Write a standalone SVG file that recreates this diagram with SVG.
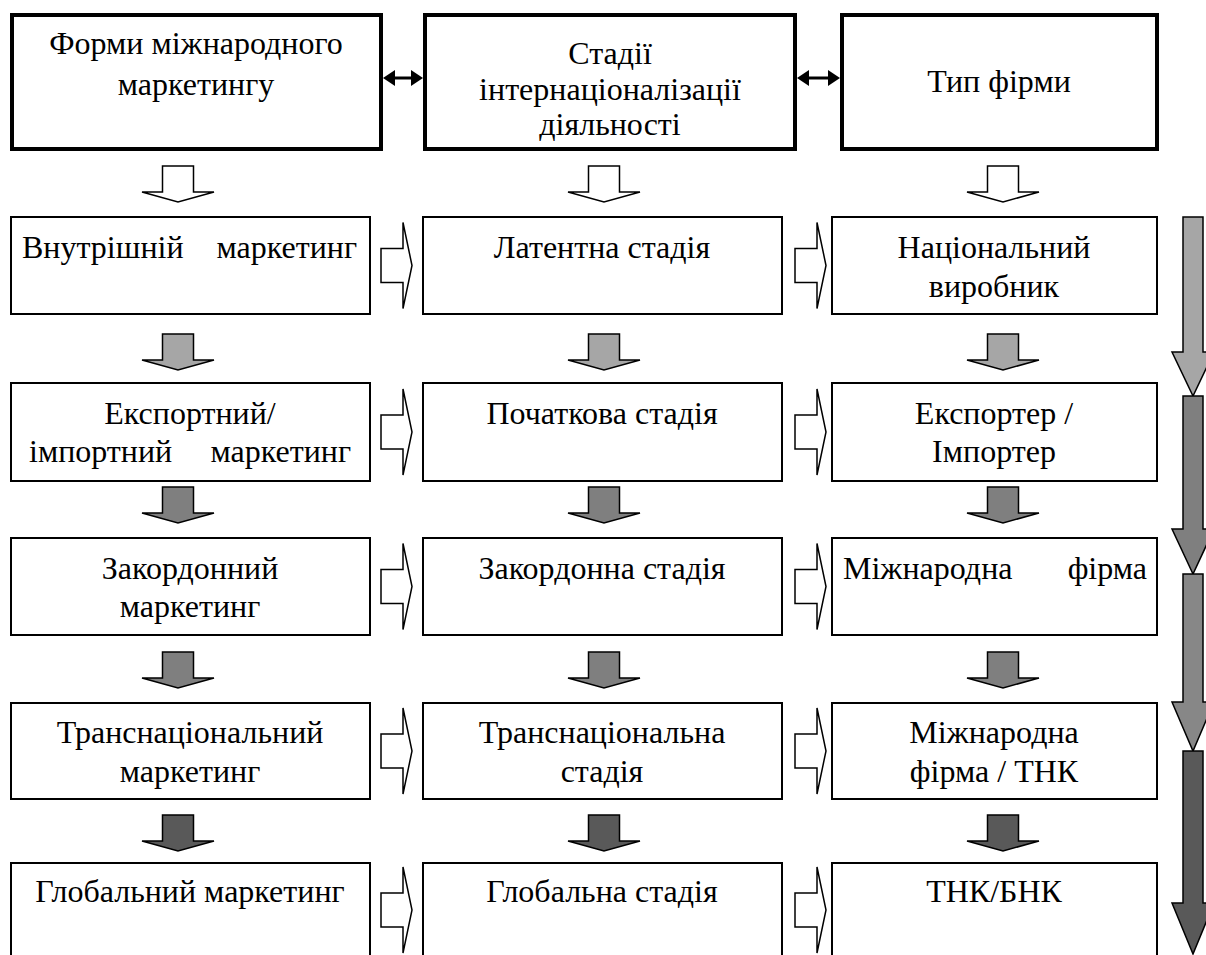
<svg xmlns="http://www.w3.org/2000/svg" width="1206" height="955" viewBox="0 0 1206 955">
  <style>
    .head { fill: #ffffff; stroke: #000000; stroke-width: 4; }
    .box { fill: #ffffff; stroke: #000000; stroke-width: 2; }
    .t { font-family: "Liberation Serif", "Times New Roman", serif; font-size: 32px; fill: #000000; text-anchor: middle; }
    .l { text-anchor: start; }
    .r { text-anchor: end; }
    .hollow { fill: #ffffff; stroke: #000000; stroke-width: 1.5; stroke-linejoin: miter; }
    .g1 { fill: #a6a6a6; stroke: #000000; stroke-width: 1.5; }
    .g2 { fill: #7f7f7f; stroke: #000000; stroke-width: 1.5; }
    .g3 { fill: #878787; stroke: #000000; stroke-width: 1.5; }
    .g4 { fill: #595959; stroke: #000000; stroke-width: 1.5; }
    .dbl { fill: #000000; stroke: none; }
    .dblline { stroke: #000000; stroke-width: 3; }
  </style>
  <defs>
    <!-- down block arrow, origin at top-centre of the shaft -->
    <polygon id="down" points="-15.5,0 15.5,0 15.5,26 36,26 0,36 -36,26 -15.5,26"/>
    <!-- right block arrow, origin at left-centre of the shaft -->
    <polygon id="right" points="0,-17 22,-17 22,-43 31,0 22,43 22,17 0,17"/>
  </defs>
  <rect width="1206" height="955" fill="#ffffff"/>

  <!-- header nodes -->
  <g id="header-forms">
    <rect class="head" x="12" y="15" width="369" height="134"/>
    <text class="t" x="196" y="54">Форми міжнародного</text>
    <text class="t" x="196" y="95">маркетингу</text>
  </g>
  <g id="header-stages">
    <rect class="head" x="425" y="15" width="370" height="134"/>
    <text class="t" x="610" y="64">Стадії</text>
    <text class="t" x="610" y="100">інтернаціоналізації</text>
    <text class="t" x="610" y="135">діяльності</text>
  </g>
  <g id="header-type">
    <rect class="head" x="842" y="15" width="315" height="134"/>
    <text class="t" x="999" y="92">Тип фірми</text>
  </g>

  <!-- row 1 -->
  <g id="r1c1"><rect class="box" x="11" y="217" width="359" height="97"/>
    <text class="t" y="258"><tspan class="l" x="22">Внутрішній</tspan><tspan class="r" x="357">маркетинг</tspan></text></g>
  <g id="r1c2"><rect class="box" x="423" y="217" width="359" height="97"/>
    <text class="t" x="602" y="258">Латентна стадія</text></g>
  <g id="r1c3"><rect class="box" x="832" y="217" width="325" height="97"/>
    <text class="t" x="994" y="258">Національний</text>
    <text class="t" x="994" y="297">виробник</text></g>

  <!-- row 2 -->
  <g id="r2c1"><rect class="box" x="11" y="383" width="359" height="98"/>
    <text class="t" x="190" y="424">Експортний/</text>
    <text class="t" y="462"><tspan class="l" x="29">імпортний</tspan><tspan class="r" x="351">маркетинг</tspan></text></g>
  <g id="r2c2"><rect class="box" x="423" y="383" width="359" height="98"/>
    <text class="t" x="602" y="424">Початкова стадія</text></g>
  <g id="r2c3"><rect class="box" x="832" y="383" width="325" height="98"/>
    <text class="t" x="994" y="424">Експортер /</text>
    <text class="t" x="994" y="462">Імпортер</text></g>

  <!-- row 3 -->
  <g id="r3c1"><rect class="box" x="11" y="538" width="359" height="97"/>
    <text class="t" x="190" y="579">Закордонний</text>
    <text class="t" x="190" y="617">маркетинг</text></g>
  <g id="r3c2"><rect class="box" x="423" y="538" width="359" height="97"/>
    <text class="t" x="602" y="579">Закордонна стадія</text></g>
  <g id="r3c3"><rect class="box" x="832" y="538" width="325" height="97"/>
    <text class="t" y="579"><tspan class="l" x="843">Міжнародна</tspan><tspan class="r" x="1147">фірма</tspan></text></g>

  <!-- row 4 -->
  <g id="r4c1"><rect class="box" x="11" y="703" width="359" height="96"/>
    <text class="t" x="190" y="743">Транснаціональний</text>
    <text class="t" x="190" y="782">маркетинг</text></g>
  <g id="r4c2"><rect class="box" x="423" y="703" width="359" height="96"/>
    <text class="t" x="602" y="743">Транснаціональна</text>
    <text class="t" x="602" y="782">стадія</text></g>
  <g id="r4c3"><rect class="box" x="832" y="703" width="325" height="96"/>
    <text class="t" x="994" y="743">Міжнародна</text>
    <text class="t" x="994" y="782">фірма / ТНК</text></g>

  <!-- row 5 -->
  <g id="r5c1"><rect class="box" x="11" y="863" width="359" height="100"/>
    <text class="t" x="190" y="902">Глобальний маркетинг</text></g>
  <g id="r5c2"><rect class="box" x="423" y="863" width="359" height="100"/>
    <text class="t" x="602" y="902">Глобальна стадія</text></g>
  <g id="r5c3"><rect class="box" x="832" y="863" width="325" height="100"/>
    <text class="t" x="994" y="902">ТНК/БНК</text></g>

  <g id="connectors">
    <!-- double-headed links between header nodes -->
    <line class="dblline" x1="393" y1="78" x2="412" y2="78"/>
    <polygon class="dbl" points="383,78 395,70 395,86"/>
    <polygon class="dbl" points="423,78 411,70 411,86"/>
    <line class="dblline" x1="807" y1="78" x2="830" y2="78"/>
    <polygon class="dbl" points="797,78 809,70 809,86"/>
    <polygon class="dbl" points="840,78 828,70 828,86"/>

    <!-- header to first row -->
    <use href="#down" class="hollow" x="178" y="166"/>
    <use href="#down" class="hollow" x="604" y="166"/>
    <use href="#down" class="hollow" x="1003" y="166"/>
    <!-- row 1 to row 2 -->
    <use href="#down" class="g1" x="178" y="334"/>
    <use href="#down" class="g1" x="604" y="334"/>
    <use href="#down" class="g1" x="1003" y="334"/>
    <!-- row 2 to row 3 -->
    <use href="#down" class="g2" x="178" y="487"/>
    <use href="#down" class="g2" x="604" y="487"/>
    <use href="#down" class="g2" x="1003" y="487"/>
    <!-- row 3 to row 4 -->
    <use href="#down" class="g2" x="178" y="652"/>
    <use href="#down" class="g2" x="604" y="652"/>
    <use href="#down" class="g2" x="1003" y="652"/>
    <!-- row 4 to row 5 -->
    <use href="#down" class="g4" x="178" y="815"/>
    <use href="#down" class="g4" x="604" y="815"/>
    <use href="#down" class="g4" x="1003" y="815"/>

    <!-- left-to-right links inside each row -->
    <use href="#right" class="hollow" x="381" y="265.5"/>
    <use href="#right" class="hollow" x="795" y="265.5"/>
    <use href="#right" class="hollow" x="381" y="432"/>
    <use href="#right" class="hollow" x="795" y="432"/>
    <use href="#right" class="hollow" x="381" y="586.5"/>
    <use href="#right" class="hollow" x="795" y="586.5"/>
    <use href="#right" class="hollow" x="381" y="751"/>
    <use href="#right" class="hollow" x="795" y="751"/>
    <use href="#right" class="hollow" x="381" y="910"/>
    <use href="#right" class="hollow" x="795" y="910"/>

    <!-- progression arrow along the right edge -->
    <polygon class="g1" points="1183,217 1203,217 1203,352 1214,352 1193,396 1172,352 1183,352"/>
    <polygon class="g2" points="1183,396 1203,396 1203,529 1214,529 1193,574 1172,529 1183,529"/>
    <polygon class="g3" points="1183,574 1203,574 1203,702 1214,702 1193,751 1172,702 1183,702"/>
    <polygon class="g4" points="1183,751 1203,751 1203,903 1214,903 1193,954 1172,903 1183,903"/>
  </g>
</svg>
